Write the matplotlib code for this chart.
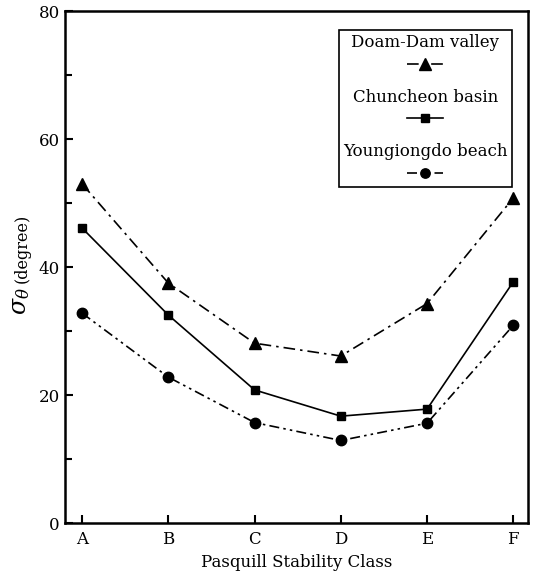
import matplotlib
matplotlib.use("Agg")
import matplotlib.pyplot as plt
from matplotlib.lines import Line2D
from matplotlib.offsetbox import AnchoredOffsetbox, VPacker, TextArea, DrawingArea

# stability classes and sigma-theta values (degree) for each site
classes = ["A", "B", "C", "D", "E", "F"]
doam_dam = [53.0, 37.5, 28.1, 26.1, 34.3, 50.8]
chuncheon = [46.1, 32.5, 20.8, 16.7, 17.8, 37.7]
youngiongdo = [32.8, 22.8, 15.7, 12.9, 15.6, 30.9]

series_labels = ["Doam-Dam valley", "Chuncheon basin", "Youngiongdo beach"]

plt.rcParams["font.family"] = ["DejaVu Serif"]
plt.rcParams["mathtext.fontset"] = "dejavuserif"

fig = plt.figure(figsize=(5.36, 5.81), dpi=100)
ax = fig.add_axes([0.121, 0.0998, 0.864, 0.881])

x = list(range(len(classes)))
dashdot = (0, (7, 3, 1.5, 3))
dashdotdot = (0, (6, 2.5, 1.5, 2.5, 1.5, 2.5))

styles = [
    dict(linestyle=dashdot, marker="^", markersize=9),
    dict(linestyle="-", marker="s", markersize=6),
    dict(linestyle=dashdotdot, marker="o", markersize=7.5),
]

for vals, st in zip([doam_dam, chuncheon, youngiongdo], styles):
    ax.plot(x, vals, color="black", linewidth=1.2, markerfacecolor="black",
            markeredgecolor="black", **st)

ax.set_xlim(-0.2, 5.17)
ax.set_ylim(0, 80)
ax.set_xticks(x)
ax.set_xticklabels(classes)
ax.set_yticks([0, 20, 40, 60, 80])
ax.set_yticks([10, 30, 50, 70], minor=True)
ax.tick_params(axis="both", which="both", direction="in", labelsize=12,
               width=1.5, color="black")
ax.tick_params(axis="both", which="major", length=6)
ax.tick_params(axis="y", which="minor", length=5)
ax.tick_params(axis="x", pad=6)
for sp in ax.spines.values():
    sp.set_linewidth(1.8)

ax.set_xlabel("Pasquill Stability Class", fontsize=12, labelpad=4)

# y label: large sigma-theta followed by the unit in smaller type
ax.text(-0.095, 0.461, r"$\sigma_\theta$", transform=ax.transAxes, rotation=90,
        fontsize=17, ha="center", va="top")
ax.text(-0.092, 0.468, "(degree)", transform=ax.transAxes, rotation=90,
        fontsize=11.5, ha="center", va="bottom")

# legend with the sample line under each label
rows = []
for label, st in zip(series_labels, styles):
    da = DrawingArea(40, 14, 0, 0)
    da.add_artist(Line2D([7, 33], [7, 7], color="black", linewidth=1.2,
                         linestyle=st["linestyle"]))
    da.add_artist(Line2D([20], [7], color="black", marker=st["marker"],
                         markersize=st["markersize"] * 0.9, markerfacecolor="black"))
    rows.append(VPacker(children=[TextArea(label, textprops=dict(fontsize=12)), da],
                        align="center", pad=0, sep=2))
box = VPacker(children=rows, align="center", pad=0, sep=11)
anchored = AnchoredOffsetbox(loc="upper right", child=box, pad=0.3, borderpad=0,
                             frameon=True, bbox_to_anchor=(0.965, 0.963),
                             bbox_transform=ax.transAxes)
anchored.patch.set_edgecolor("black")
anchored.patch.set_linewidth(1.2)
ax.add_artist(anchored)

fig.savefig("out.png", dpi=100)
